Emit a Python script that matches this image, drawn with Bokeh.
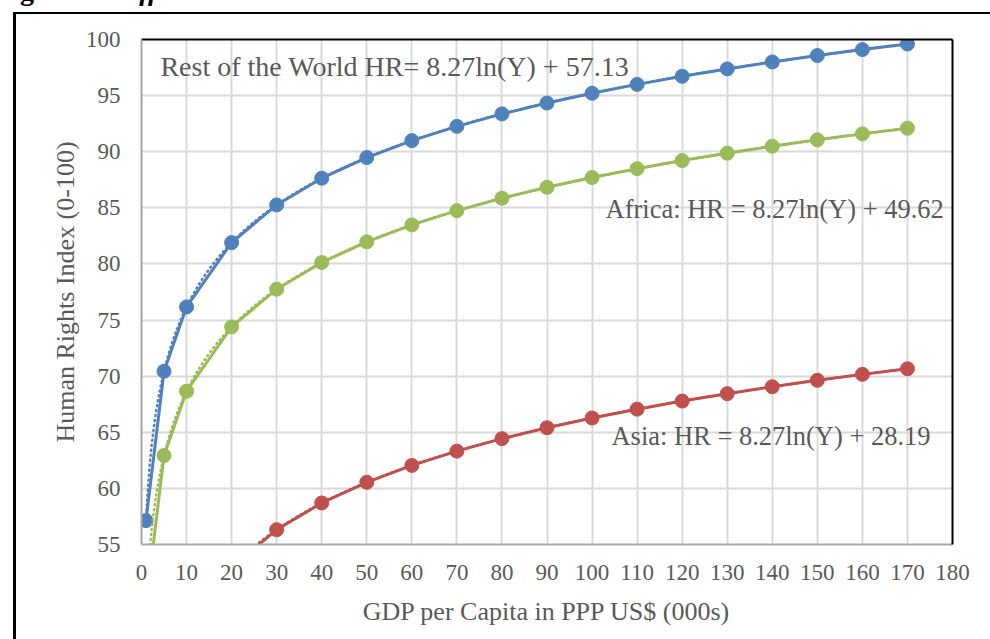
import numpy as np
from bokeh.plotting import figure
from bokeh.models import ColumnDataSource, FixedTicker, LinearAxis, Range1d, Label, Div
from bokeh.layouts import column
from bokeh.embed import file_html
from bokeh.resources import INLINE

# ---- data ----
gdp = [1, 5, 10, 20, 30, 40, 50, 60, 70, 80, 90, 100, 110, 120, 130, 140, 150, 160, 170]
rest_world = [57.13, 70.44, 76.17, 81.90, 85.26, 87.64, 89.48, 90.99, 92.26, 93.37,
              94.34, 95.21, 96.00, 96.72, 97.38, 98.00, 98.57, 99.10, 99.60]
africa = [49.62, 62.93, 68.66, 74.39, 77.75, 80.13, 81.97, 83.48, 84.75, 85.86,
          86.83, 87.70, 88.49, 89.21, 89.87, 90.49, 91.06, 91.59, 92.09]
asia = [28.19, 41.50, 47.23, 52.96, 56.32, 58.70, 60.54, 62.05, 63.32, 64.43,
        65.40, 66.27, 67.06, 67.78, 68.44, 69.06, 69.63, 70.16, 70.66]

# logarithmic trendline coefficients shown on the chart: HR = slope*ln(Y) + intercept
trend_slope = 8.27
trend_intercepts = [57.13, 49.62, 28.19]

series_names = ["Rest of the World", "Africa", "Asia"]
series_colors = ["#4F81BD", "#9BBB59", "#C0504D"]
equation_texts = ["Rest of the World HR= 8.27ln(Y) + 57.13",
                  "Africa: HR = 8.27ln(Y) + 49.62",
                  "Asia: HR = 8.27ln(Y) + 28.19"]

x_ticks = list(range(0, 181, 10))
y_ticks = list(range(55, 101, 5))

x_title = "GDP per Capita in PPP US$ (000s)"
y_title = "Human Rights Index (0-100)"
fig_title_a = "Figure 3:"
fig_title_b = "Differences between Continents"

FONT = "Liberation Serif"
TXT = "#595959"

W, H = 990, 639
p = figure(width=W, height=H, x_range=Range1d(0, 180), y_range=Range1d(55, 100),
           output_backend="svg", toolbar_location=None,
           min_border_left=141, min_border_right=38, min_border_top=39, min_border_bottom=95)
p.outline_line_color = None
p.background_fill_color = "white"
p.border_fill_color = "white"

# grid
p.xgrid.ticker = FixedTicker(ticks=x_ticks)
p.ygrid.ticker = FixedTicker(ticks=y_ticks)
for g in (p.xgrid, p.ygrid):
    g.grid_line_color = "#D9D9D9"
    g.grid_line_width = 2

# axes
for ax, ticks in ((p.xaxis[0], x_ticks), (p.yaxis[0], y_ticks)):
    ax.ticker = FixedTicker(ticks=ticks)
    ax.axis_line_color = "#A6A6A6"
    ax.axis_line_width = 2
    ax.major_tick_line_color = None
    ax.minor_tick_line_color = None
    ax.major_tick_out = 0
    ax.major_tick_in = 0
    ax.major_label_text_font = FONT
    ax.major_label_text_font_size = "23px"
    ax.major_label_text_color = TXT
    ax.axis_label_text_font = FONT
    ax.axis_label_text_font_size = "26px"
    ax.axis_label_text_font_style = "normal"
    ax.axis_label_text_color = TXT

p.xaxis.axis_label = x_title
p.yaxis.axis_label = y_title
p.xaxis.major_label_standoff = 20
p.xaxis.axis_label_standoff = 14
p.yaxis.major_label_standoff = 21
p.yaxis.axis_label_standoff = 3

# black top/right frame edges
for loc in ("above", "right"):
    a = LinearAxis(ticker=FixedTicker(ticks=[]), axis_line_color="black", axis_line_width=2,
                   major_tick_line_color=None, minor_tick_line_color=None,
                   major_label_text_font_size="0px")
    p.add_layout(a, loc)

# series
x_trend = np.linspace(min(gdp), max(gdp), 400)
for vals, icpt, col in zip([rest_world, africa, asia], trend_intercepts, series_colors):
    src = ColumnDataSource(dict(x=gdp, y=vals))
    p.line("x", "y", source=src, line_color=col, line_width=3)
    p.line(x_trend, trend_slope * np.log(x_trend) + icpt, line_color=col, line_width=2.5,
           line_dash="1 4", line_cap="round")
    p.scatter("x", "y", source=src, size=14, fill_color=col, line_color=col)

# equation labels
label_pos = [(4.2, 97.6), (103.0, 84.9), (104.3, 64.65)]
label_sizes = ["28px", "26.5px", "26.5px"]
for txt, (lx, ly), fs in zip(equation_texts, label_pos, label_sizes):
    p.add_layout(Label(x=lx, y=ly, text=txt, text_font=FONT, text_font_size=fs,
                       text_color=TXT, text_baseline="middle", text_align="left"))

# outer figure frame (top and left edges) and the cropped figure caption above it
overlay_html = (
    '<div style="position:absolute;left:8px;top:7px;width:982px;height:632px;'
    'border-top:2px solid black;border-left:3px solid black;box-sizing:border-box;"></div>'
    '<div style="position:absolute;left:-10px;top:-29px;white-space:nowrap;color:black;'
    "font-family:'Liberation Serif';font-size:28px;line-height:30px;font-weight:bold;\">"
    f'{fig_title_a} <i>{fig_title_b}</i></div>'
)
overlay = Div(text=overlay_html, width=990, height=639,
              styles={"position": "absolute", "left": "0px", "top": "0px",
                      "pointer-events": "none", "overflow": "visible"})

layout = column(p, overlay, spacing=0)
open("out.html", "w").write(file_html(layout, INLINE))
